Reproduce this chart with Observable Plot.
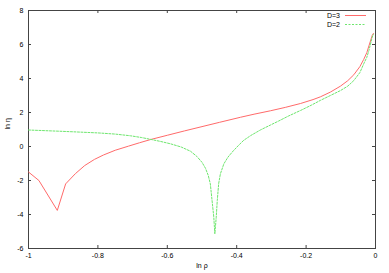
<!DOCTYPE html>
<html>
<head>
<meta charset="utf-8">
<script src="https://cdn.jsdelivr.net/npm/d3@7"></script>
<script src="https://cdn.jsdelivr.net/npm/@observablehq/plot@0.6"></script>
<style>
  html, body { margin: 0; padding: 0; background: #fff; }
</style>
</head>
<body>
<div id="chart"></div>
<script>
// D=3 series (ln rho, ln eta)
const d3X = [-1, -0.97, -0.917, -0.893, -0.865, -0.838, -0.81, -0.784, -0.75, -0.712, -0.68, -0.648, -0.6, -0.55, -0.5, -0.45, -0.389, -0.35, -0.303, -0.26, -0.216, -0.18, -0.159, -0.13, -0.101, -0.08, -0.0625, -0.045, -0.034, -0.025, -0.019, -0.0095, -0.006];
const d3Y = [-1.5, -2.0, -3.76, -2.2, -1.6, -1.12, -0.76, -0.5, -0.22, 0.02, 0.22, 0.41, 0.66, 0.92, 1.17, 1.42, 1.72, 1.9, 2.1, 2.3, 2.53, 2.76, 2.92, 3.2, 3.55, 3.87, 4.22, 4.7, 5.12, 5.52, 5.92, 6.53, 6.65];
// D=2 series
const d2X = [-1, -0.9, -0.8, -0.75, -0.706, -0.675, -0.648, -0.62, -0.591, -0.56, -0.533, -0.515, -0.5, -0.49, -0.482, -0.476, -0.471, -0.466, -0.463, -0.459, -0.456, -0.452, -0.447, -0.437, -0.425, -0.41, -0.395, -0.38, -0.36, -0.331, -0.303, -0.279, -0.25, -0.216, -0.185, -0.159, -0.13, -0.101, -0.08, -0.0625, -0.045, -0.034, -0.025, -0.019, -0.0095, -0.006];
const d2Y = [0.97, 0.89, 0.8, 0.73, 0.63, 0.53, 0.42, 0.3, 0.16, -0.03, -0.28, -0.58, -0.93, -1.28, -1.7, -2.2, -3.18, -4.16, -5.14, -4.16, -3.18, -2.19, -1.61, -1.02, -0.62, -0.26, 0.06, 0.36, 0.64, 0.98, 1.26, 1.5, 1.8, 2.12, 2.43, 2.71, 3.0, 3.29, 3.55, 3.88, 4.35, 4.86, 5.25, 5.65, 6.43, 6.6];

const xTicks = [-1, -0.8, -0.6, -0.4, -0.2, 0];
const yTicks = [-6, -4, -2, 0, 2, 4, 6, 8];
const seriesNames = ["D=3", "D=2"];
const seriesColors = ["#ff6a6a", "#6ee66e"];

const W = 389, H = 273;
const mL = 28, mR = 14, mT = 10, mB = 25;
const innerW = W - mL - mR, innerH = H - mT - mB;

const s3 = d3X.map((x, i) => ({x, y: d3Y[i]}));
const s2 = d2X.map((x, i) => ({x, y: d2Y[i]}));

const chart = Plot.plot({
  width: W, height: H,
  marginLeft: mL, marginRight: mR, marginTop: mT, marginBottom: mB,
  style: {fontFamily: "'Liberation Sans', Arial, sans-serif", fontSize: "7px", background: "#fff", color: "#000"},
  x: {domain: [-1, 0]},
  y: {domain: [-6, 8]},
  marks: [
    Plot.frame({stroke: "#444", strokeWidth: 1}),
    Plot.tickX(xTicks, {x: d => d, insetTop: innerH - 3, stroke: "#444"}),
    Plot.tickX(xTicks, {x: d => d, insetBottom: innerH - 3, stroke: "#444"}),
    Plot.tickY(yTicks, {y: d => d, insetRight: innerW - 3, stroke: "#444"}),
    Plot.tickY(yTicks, {y: d => d, insetLeft: innerW - 3, stroke: "#444"}),
    Plot.axisX(xTicks, {tickSize: 0, tickPadding: 5, tickFormat: d => String(d), label: null, fill: "#000"}),
    Plot.axisY(yTicks, {tickSize: 0, tickPadding: 5, tickFormat: d => String(d), label: null, fill: "#000"}),
    Plot.text(["ln ρ"], {frameAnchor: "bottom", dy: 19, text: d => d, fill: "#000"}),
    Plot.text(["ln η"], {frameAnchor: "left", dx: -21, rotate: -90, text: d => d, fill: "#000"}),
    Plot.line(s3, {x: "x", y: "y", stroke: seriesColors[0], strokeWidth: 1}),
    Plot.line(s2, {x: "x", y: "y", stroke: seriesColors[1], strokeWidth: 1, strokeDasharray: "2,1.5"})
  ]
});

// legend (top-right, inside frame)
const svg = d3.select(chart);
const lg = svg.append("g")
  .attr("font-family", "'Liberation Sans', Arial, sans-serif")
  .attr("font-size", "7px");
seriesNames.forEach((name, i) => {
  const yy = mT + 5.5 + i * 9;
  lg.append("text")
    .attr("x", W - mR - 35).attr("y", yy)
    .attr("dy", "0.35em")
    .attr("text-anchor", "end")
    .attr("fill", "#000")
    .text(name);
  lg.append("line")
    .attr("x1", W - mR - 30).attr("x2", W - mR - 9)
    .attr("y1", yy).attr("y2", yy)
    .attr("stroke", seriesColors[i])
    .attr("stroke-width", 1)
    .attr("stroke-dasharray", i === 1 ? "2,1.5" : null);
});

document.getElementById("chart").appendChild(chart);
</script>
</body>
</html>
